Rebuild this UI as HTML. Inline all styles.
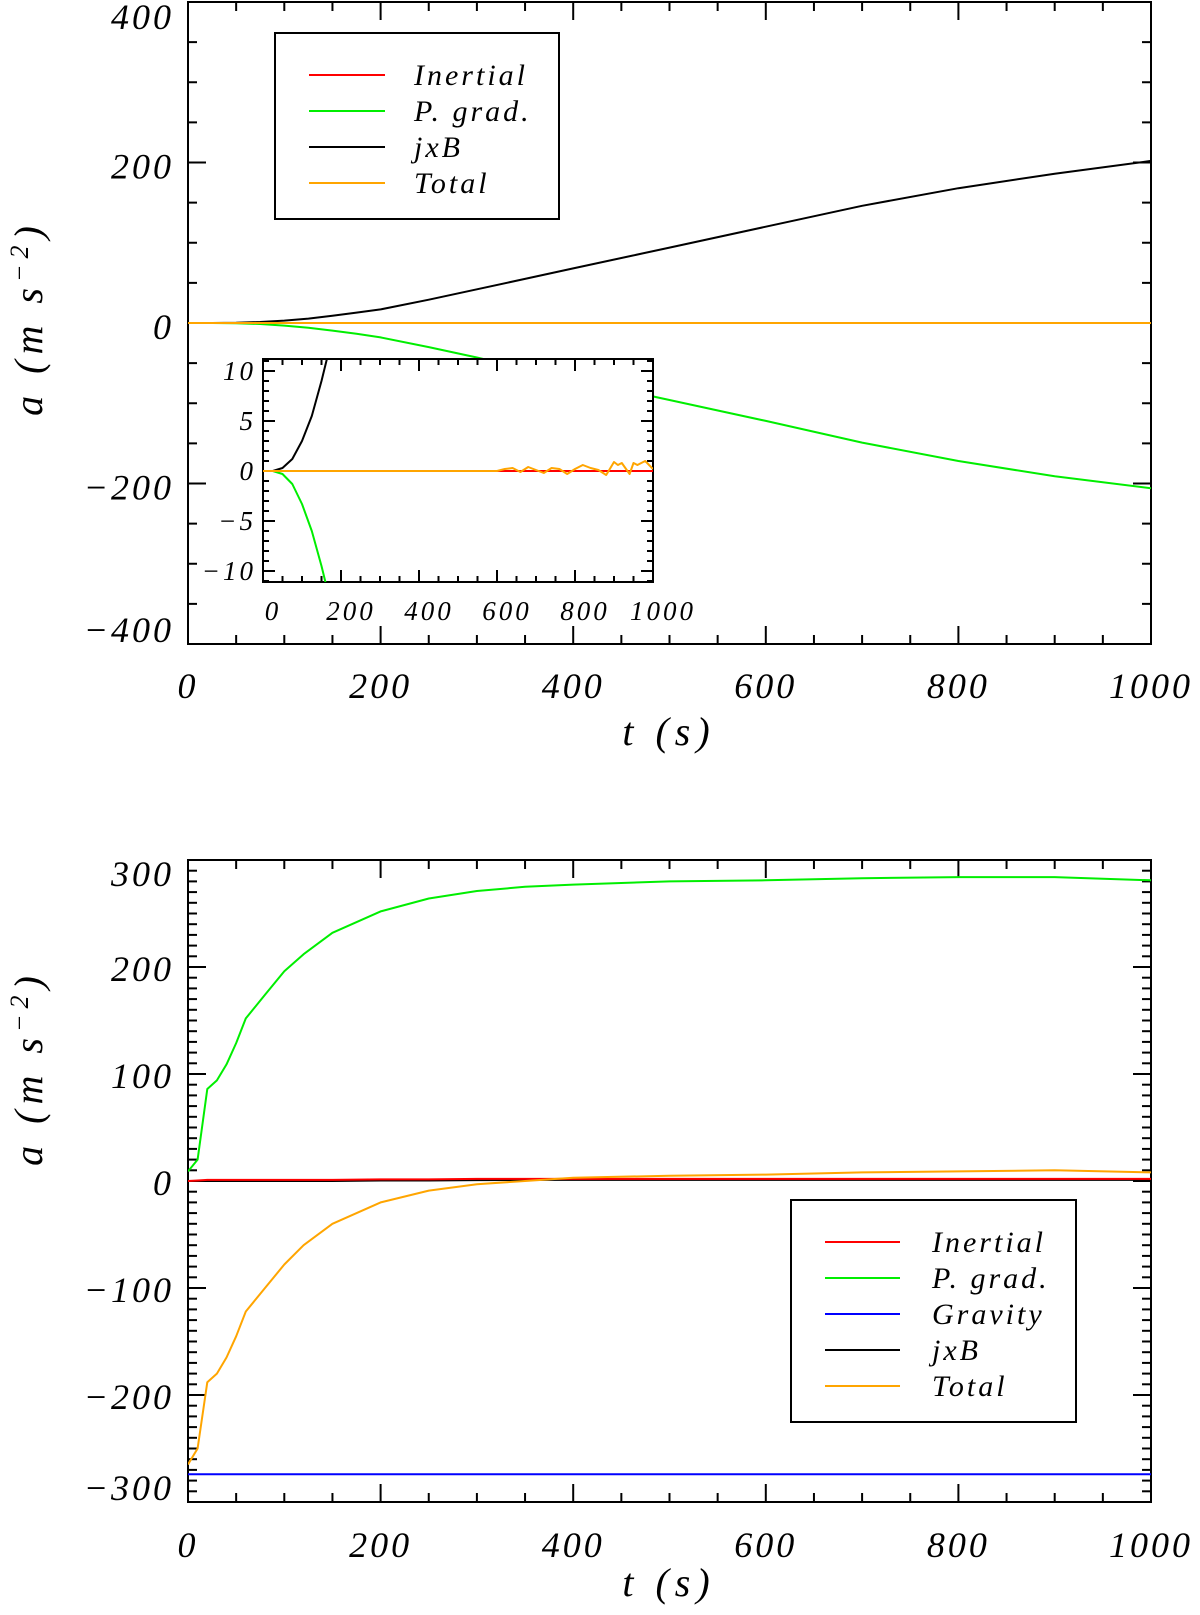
<!DOCTYPE html>
<html><head><meta charset="utf-8"><style>
html,body{margin:0;padding:0;background:#fff;overflow:hidden;width:1200px;height:1615px}
svg{display:block}
text{font-family:"Liberation Serif",serif;font-style:italic;fill:#000}
.tk{letter-spacing:3px}
.lg{letter-spacing:3px}
.ti{letter-spacing:6px}
</style></head><body>
<svg id="fig" width="1200" height="1615" viewBox="0 0 1200 1615" overflow="hidden" xmlns="http://www.w3.org/2000/svg"></svg>
<script>
// ---- Top panel data ----
const tTop = [0,25,50,75,100,125,150,175,200,250,300,350,400,500,600,700,800,900,1000];
const jxbTop = [0,0,0.3,1.2,3,5.5,9,13,17,29,42,55,68,94,120,146,168,186,202];
const pgradTop = [0,0,-0.3,-1.3,-3.3,-6,-9.5,-13.5,-18,-30,-43,-57,-70,-96,-122,-149,-172,-191,-206];
const tNoise = [0,100,200,300,400,500,600,620,640,660,680,700,720,740,760,780,800,820,840,860,880,900,910,920,940,950,960,980,1000];
const totalTop = [0,0,0,0,0,0,0,0.2,0.3,-0.1,0.4,0.1,-0.2,0.3,0.2,-0.3,0.2,0.6,0.3,0.1,-0.4,0.9,0.6,0.8,-0.3,0.8,0.6,1.0,0.2];
const inertialTop = [0,0,0,0,0,0,0,0,0,0,0,0,0,0,0,0,0,0,0,0,0,0,0,0,0,0,0,0,0];
// ---- Bottom panel data ----
const tBot = [0,10,20,30,40,50,60,80,100,120,150,200,250,300,350,400,500,600,700,800,900,1000];
const pgradBot = [9,20,86,94,109,129,152,174,196,212,232,252,264,271,275,277,280,281,283,284,284,281];
const totalBot = [-265,-250,-188,-180,-165,-145,-122,-100,-78,-60,-40,-20,-9,-3,0,3,5,6,8,9,10,8];
const jxbBot = [0,0,0,0,0,0,0,0,0,0,0,0.5,0.5,0.8,1,1,1,1,1,1,1,1];
const inertialBot = [0,0.5,1,1,1,1,1,1,1,1,1,1.5,1.5,2,2,2,2,2,2,2,2,2];
const gravityBot = [-274,-274];
const tGrav = [0,1000];
const yTicksTop = [-400,-200,0,200,400];
const yTicksBot = [-300,-200,-100,0,100,200,300];
const xTicks = [0,200,400,600,800,1000];
const insetYTicks = [-10,-5,0,5,10];

const NS = "http://www.w3.org/2000/svg";
const svg = document.getElementById('fig');
function el(tag, attrs, parent){ const e=document.createElementNS(NS,tag); for(const k in attrs) e.setAttribute(k,attrs[k]); (parent||svg).appendChild(e); return e; }
function txt(x,y,s,size,anchor,parent,cls){ const e=el('text',{x:x,y:y,'font-size':size,'text-anchor':anchor||'middle'},parent); if(cls) e.setAttribute('class',cls); e.textContent=s; return e; }

function makeAxes(P){
  const sx = v => P.x0 + (v-P.xmin)/(P.xmax-P.xmin)*(P.x1-P.x0);
  const sy = v => P.y1 - (v-P.ymin)/(P.ymax-P.ymin)*(P.y1-P.y0);
  return {sx, sy};
}
function drawFrame(P, A, g){
  el('rect',{x:P.x0,y:P.y0,width:P.x1-P.x0,height:P.y1-P.y0,fill:'#fff',stroke:'#000','stroke-width':P.sw},g);
  for(let v=P.xmin; v<=P.xmax+1e-6; v+=P.xminor){
    const major = Math.abs(v/P.xmajor - Math.round(v/P.xmajor))<1e-6;
    const L = major?P.majL:P.minL, x=A.sx(v);
    el('line',{x1:x,y1:P.y1,x2:x,y2:P.y1-L,stroke:'#000','stroke-width':P.sw},g);
    el('line',{x1:x,y1:P.y0,x2:x,y2:P.y0+L,stroke:'#000','stroke-width':P.sw},g);
  }
  for(let v=P.ymin; v<=P.ymax+1e-6; v+=P.yminor){
    const major = Math.abs(v/P.ymajor - Math.round(v/P.ymajor))<1e-6;
    const L = major?P.majL:P.minL, y=A.sy(v);
    el('line',{x1:P.x0,y1:y,x2:P.x0+L,y2:y,stroke:'#000','stroke-width':P.sw},g);
    el('line',{x1:P.x1,y1:y,x2:P.x1-L,y2:y,stroke:'#000','stroke-width':P.sw},g);
  }
}
function fmt(v){ return v<0 ? '\u2212'+Math.abs(v) : ''+v; }
function series(xs, ys, A, color, name, g, w){
  const pts = xs.map((t,i)=>A.sx(t).toFixed(1)+','+A.sy(ys[i]).toFixed(1)).join(' ');
  const p = el('polyline',{points:pts,fill:'none',stroke:color,'stroke-width':w||2,'stroke-linejoin':'round'},g);
  
  
  return p;
}
function legend(g, x0,y0,x1,y1, items, rows, lx0, lx1, tx, size){
  const r = el('rect',{x:x0,y:y0,width:x1-x0,height:y1-y0,fill:'#fff',stroke:'#000','stroke-width':2},g);
  
  
  items.forEach((it,i)=>{
    const eg = el('g',{},g);
    
    
    el('line',{x1:lx0,y1:rows[i],x2:lx1,y2:rows[i],stroke:it[1],'stroke-width':2},eg);
    txt(tx,rows[i]+10,it[0],size,'start',eg,'lg');
  });
}
function yTitle(g, cy){
  const t = el('text',{x:0,y:0,'font-size':40,'text-anchor':'middle',transform:'translate(42,'+cy+') rotate(-90)'},g);
  t.setAttribute('class','ti');
  t.innerHTML = 'a (m s<tspan dy="-14" font-size="26">\u22122</tspan><tspan dy="14">)</tspan>';
  return t;
}

const defs = el('defs',{});
// ===== Top panel =====
const gTop = el('g',{});  
const PT = {x0:188,x1:1151,y0:2,y1:644,xmin:0,xmax:1000,ymin:-400,ymax:400,xmajor:200,xminor:50,ymajor:200,yminor:50,majL:18,minL:9,sw:2};
const AT = makeAxes(PT);
drawFrame(PT, AT, gTop);
const c1 = el('clipPath',{id:'clipTop'},defs); el('rect',{x:PT.x0,y:PT.y0,width:PT.x1-PT.x0,height:PT.y1-PT.y0},c1);
const cT = el('g',{'clip-path':'url(#clipTop)'},gTop);
series(tTop, pgradTop, AT, '#00ee00', 'pgrad-line-top', cT);
series(tTop, jxbTop, AT, '#000', 'jxb-line-top', cT);
series(tNoise, inertialTop, AT, '#ff0000', 'inertial-line-top', cT);
series(tNoise, totalTop.map(v=>v*0), AT, '#ffa500', 'total-line-top', cT);
yTicksTop.forEach(v=>{ let b=AT.sy(v)+16; b=Math.max(PT.y0+27,Math.min(PT.y1-2,b)); const t=txt(174,b,fmt(v),36,'end',gTop,'tk');   });
xTicks.forEach(v=>{ const t=txt(AT.sx(v),698,''+v,36,'middle',gTop,'tk');   });
const xtT = txt(669,745,'t (s)',40,'middle',gTop,'ti');  
const ytT = yTitle(gTop, 318);
 
legend(gTop, 275,33,559,219, [['Inertial','#ff0000','inertial'],['P. grad.','#00ee00','pgrad'],['jxB','#000','jxb'],['Total','#ffa500','total']], [75,111,147,183], 309,385,414,30);

// ===== Inset =====
const gIn = el('g',{});  
const PI = {x0:263,x1:653,y0:359,y1:582,xmin:0,xmax:1000,ymin:-11.1,ymax:11.2,xmajor:200,xminor:50,ymajor:5,yminor:1,majL:12,minL:6,sw:2};
const AI = makeAxes(PI);
drawFrame({...PI, ymin:-11, ymax:11}, {sx:AI.sx, sy:AI.sy}, gIn);
const c2 = el('clipPath',{id:'clipIn'},defs); el('rect',{x:PI.x0,y:PI.y0,width:PI.x1-PI.x0,height:PI.y1-PI.y0},c2);
const cI = el('g',{'clip-path':'url(#clipIn)'},gIn);
series(tTop, pgradTop, AI, '#00ee00', 'pgrad-line-inset', cI);
series(tTop, jxbTop, AI, '#000', 'jxb-line-inset', cI);
series(tNoise, inertialTop, AI, '#ff0000', 'inertial-line-inset', cI);
series(tNoise, totalTop, AI, '#ffa500', 'total-line-inset', cI);
insetYTicks.forEach(v=>{ const t=txt(256,AI.sy(v)+9,fmt(v),27,'end',gIn,'tk');   });
xTicks.forEach(v=>{ const t=txt(AI.sx(v)+10,620,''+v,27,'middle',gIn,'tk');   });

// ===== Bottom panel =====
const gBot = el('g',{});  
const PB = {x0:188,x1:1151,y0:860,y1:1502,xmin:0,xmax:1000,ymin:-300,ymax:300,xmajor:200,xminor:50,ymajor:100,yminor:10,majL:18,minL:9,sw:2};
const AB = makeAxes(PB);
drawFrame(PB, AB, gBot);
const c3 = el('clipPath',{id:'clipBot'},defs); el('rect',{x:PB.x0,y:PB.y0,width:PB.x1-PB.x0,height:PB.y1-PB.y0},c3);
const cB = el('g',{'clip-path':'url(#clipBot)'},gBot);
series(tGrav, gravityBot, AB, '#0000ff', 'gravity-line', cB);
series(tBot, pgradBot, AB, '#00ee00', 'pgrad-line-bottom', cB);
series(tBot, jxbBot, AB, '#000', 'jxb-line-bottom', cB);
series(tBot, inertialBot, AB, '#ff0000', 'inertial-line-bottom', cB);
series(tBot, totalBot, AB, '#ffa500', 'total-line-bottom', cB);
yTicksBot.forEach(v=>{ let b=AB.sy(v)+14; b=Math.max(PB.y0+26,Math.min(PB.y1-2,b)); const t=txt(174,b,fmt(v),36,'end',gBot,'tk');   });
xTicks.forEach(v=>{ const t=txt(AB.sx(v),1557,''+v,36,'middle',gBot,'tk');   });
const xtB = txt(669,1596,'t (s)',40,'middle',gBot,'ti');  
const ytB = yTitle(gBot, 1068);
 
legend(gBot, 791,1200,1076,1422, [['Inertial','#ff0000','inertial'],['P. grad.','#00ee00','pgrad'],['Gravity','#0000ff','gravity'],['jxB','#000','jxb'],['Total','#ffa500','total']], [1242,1278,1314,1350,1386], 825,900,932,30);
</script>
</body></html>
